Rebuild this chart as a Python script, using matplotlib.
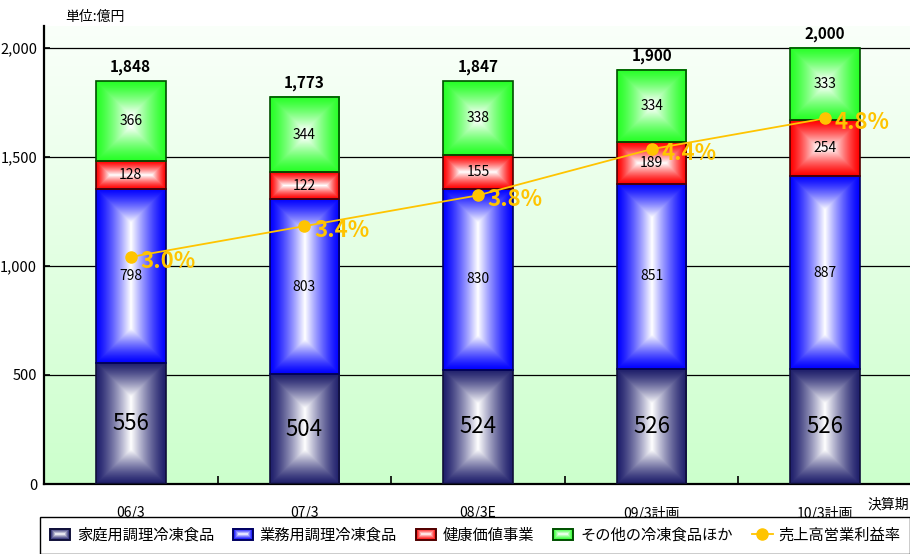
import numpy as np
import matplotlib
matplotlib.use("Agg")
import matplotlib.pyplot as plt
from matplotlib.patches import Rectangle
from matplotlib.lines import Line2D
from matplotlib.legend_handler import HandlerBase
from matplotlib.image import BboxImage
from matplotlib.transforms import Bbox, TransformedBbox

# -------------------------------------------------------------------
# DATA
# -------------------------------------------------------------------
periods = ["06/3", "07/3", "08/3E", "09/3計画", "10/3計画"]
home = [556, 504, 524, 526, 526]          # 家庭用調理冷凍食品
business = [798, 803, 830, 851, 887]      # 業務用調理冷凍食品
health = [128, 122, 155, 189, 254]        # 健康価値事業
other = [366, 344, 338, 334, 333]         # その他の冷凍食品ほか
totals = [1848, 1773, 1847, 1900, 2000]
margin = [3.0, 3.4, 3.8, 4.4, 4.8]        # 売上高営業利益率 (%)

series_names = ["家庭用調理冷凍食品", "業務用調理冷凍食品", "健康価値事業", "その他の冷凍食品ほか"]
margin_name = "売上高営業利益率"

# -------------------------------------------------------------------
# STYLE
# -------------------------------------------------------------------
JP_FONT = ["Noto Sans CJK JP", "DejaVu Sans"]
NUM_FONT = ["DejaVu Sans Condensed", "Liberation Sans Narrow", "Noto Sans CJK JP", "DejaVu Sans"]
plt.rcParams["font.family"] = JP_FONT

series_rgb = [(0.12, 0.12, 0.42), (0.0, 0.0, 1.0), (1.0, 0.0, 0.0), (0.15, 1.0, 0.15)]
series_edge = ["#10103a", "#000060", "#500000", "#005000"]
line_color = "#FFC400"


def box_gradient(w_px, h_px, rgb):
    """Rectangle gradient: saturated colour at the edges, white in the middle."""
    w = max(int(round(w_px)), 2)
    h = max(int(round(h_px)), 2)
    xs = np.arange(w) + 0.5
    ys = np.arange(h) + 0.5
    dx = np.minimum(xs, w - xs)
    dy = np.minimum(ys, h - ys)
    d = np.minimum(dy[:, None], dx[None, :])
    t = np.clip(d / (min(w, h) / 2.0), 0, 1) ** 1.3
    rgb = np.asarray(rgb)
    return rgb[None, None, :] * (1 - t[..., None]) + t[..., None]


class GradientHandler(HandlerBase):
    def __init__(self, rgb, edge):
        super().__init__()
        self.rgb = rgb
        self.edge = edge

    def legend_artist(self, legend, orig_handle, fontsize, handlebox):
        x0, y0 = -handlebox.xdescent, -handlebox.ydescent
        w, h = handlebox.width * 0.92, handlebox.height
        bbox = TransformedBbox(Bbox.from_bounds(x0, y0, w, h), handlebox.get_transform())
        img = BboxImage(bbox, interpolation="bilinear")
        img.set_data(box_gradient(20, 12, self.rgb))
        handlebox.add_artist(img)
        rect = Rectangle((x0, y0), w, h, facecolor="none", edgecolor=self.edge, lw=1.4)
        handlebox.add_artist(rect)
        return rect


# -------------------------------------------------------------------
# FIGURE
# -------------------------------------------------------------------
fig = plt.figure(figsize=(9.1, 5.54), dpi=100)
ax = fig.add_axes([44 / 910, 1 - 484 / 554, 868 / 910, (484 - 26) / 554])
XLIM, YLIM = (-0.5, 4.5), (0, 2100)
ax.set_xlim(*XLIM)
ax.set_ylim(*YLIM)

# background: white at top fading to light green at bottom
bg = np.linspace([0.98, 1.0, 0.98], [0.80, 1.0, 0.80], 256)[:, None, :]
ax.imshow(bg, extent=(0, 1, 0, 1), transform=ax.transAxes, aspect="auto",
          interpolation="bilinear", zorder=0)

x = np.arange(len(periods))
bottom = np.zeros(len(periods))
for k, vals in enumerate([home, business, health, other]):
    bars = ax.bar(x, vals, width=0.4, bottom=bottom, facecolor="none",
                  edgecolor=series_edge[k], lw=1.2, zorder=3)
    for rect, v in zip(bars, vals):
        x0, y0, w, h = rect.get_x(), rect.get_y(), rect.get_width(), rect.get_height()
        p0 = ax.transData.transform((x0, y0))
        p1 = ax.transData.transform((x0 + w, y0 + h))
        img = box_gradient(p1[0] - p0[0], p1[1] - p0[1], series_rgb[k])
        ax.imshow(img, extent=(x0, x0 + w, y0, y0 + h), origin="lower",
                  aspect="auto", interpolation="bilinear", zorder=2)
        ax.text(x0 + w / 2, y0 + h / 2, f"{v}", ha="center", va="center",
                fontsize=16 if k == 0 else 10, family=NUM_FONT, zorder=4)
    bottom += np.asarray(vals)

for xi, t in zip(x, totals):
    ax.annotate(f"{t:,}", (xi, t), xytext=(0, 10), textcoords="offset points",
                ha="center", va="center", fontsize=11, fontweight="bold",
                family=NUM_FONT)

ax.set_xlim(*XLIM)
ax.set_ylim(*YLIM)
ax.set_yticks([0, 500, 1000, 1500, 2000])
ax.set_yticklabels([f"{v:,}" for v in [0, 500, 1000, 1500, 2000]], family=NUM_FONT, fontsize=10.5)
ax.yaxis.grid(True, color="black", lw=0.9)
ax.set_xticks(x)
ax.set_xticklabels(periods, fontsize=10)
ax.set_xticks(x[:-1] + 0.5, minor=True)
ax.tick_params(axis="x", which="major", length=0, pad=16)
ax.tick_params(axis="x", which="minor", direction="in", length=6, width=1.2)
ax.tick_params(axis="y", direction="in", length=4, width=1.2, pad=5)
for s in ["top", "right"]:
    ax.spines[s].set_visible(False)
for s in ["left", "bottom"]:
    ax.spines[s].set_linewidth(1.6)

# operating margin on a hidden secondary axis
ax2 = ax.twinx()
ax2.set_ylim(0.05, 6.0)
ax2.axis("off")
ax2.plot(x, margin, color=line_color, lw=1.3, marker="o", ms=8, zorder=5)
for xi, m in zip(x, margin):
    ax2.annotate(f"{m:.1f}%", (xi, m), xytext=(7, -3), textcoords="offset points",
                 ha="left", va="center", fontsize=16, fontweight="bold",
                 color=line_color, family=NUM_FONT)

fig.text(65 / 910, 1 - 17 / 554, "単位:億円", ha="left", va="center", fontsize=10)
fig.text(888 / 910, 1 - 505 / 554, "決算期", ha="center", va="center", fontsize=10)

# legend
proxies = [Rectangle((0, 0), 1, 1) for _ in series_names]
line_proxy = Line2D([], [], color=line_color, lw=1.3, marker="o", ms=8)
handler_map = {p: GradientHandler(series_rgb[i], series_edge[i]) for i, p in enumerate(proxies)}
fig.legend(proxies + [line_proxy], series_names + [margin_name], handler_map=handler_map,
           loc="upper left", bbox_to_anchor=(40 / 910, 1 - 517 / 554), ncol=5,
           frameon=True, fancybox=False, edgecolor="black", framealpha=1,
           fontsize=11, handlelength=1.4, handleheight=0.8, handletextpad=0.35,
           columnspacing=1.25, borderpad=0.65, borderaxespad=0)

fig.savefig("out.png", dpi=100)
